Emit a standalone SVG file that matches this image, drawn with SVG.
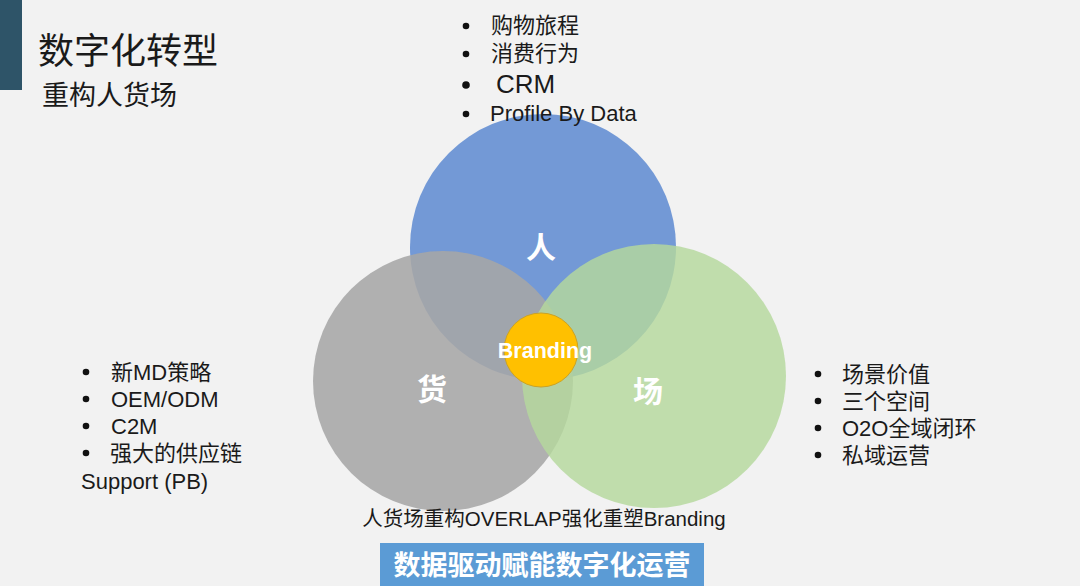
<svg xmlns="http://www.w3.org/2000/svg" width="1080" height="586" viewBox="0 0 1080 586">
<style>
.t{font-family:"Liberation Sans","Noto Sans CJK SC",sans-serif;fill:#1a1a1a}
.w{font-family:"Liberation Sans","Noto Sans CJK SC",sans-serif;fill:#fff;font-weight:bold;text-anchor:middle}
.d{fill:#111}
</style>
<rect width="1080" height="586" fill="#f2f2f2"/>
<rect x="0" y="0" width="22" height="90" fill="#2e5468"/>
<g id="title">
<text class="t" x="38" y="64" font-size="36">数字化转型</text>
<text class="t" x="42" y="105" font-size="27">重构人货场</text>
</g>
<g id="circles">
<g id="node-ren"><circle cx="543" cy="247" r="133" fill="#7399d6"/></g>
<g id="node-huo"><circle cx="443" cy="381" r="130" fill="#a6a6a6" fill-opacity="0.88"/></g>
<g id="node-chang"><circle cx="654" cy="376" r="132" fill="#b5d89c" fill-opacity="0.82"/></g>
<text class="w" x="541" y="258" font-size="30">人</text>
<text class="w" x="432" y="400" font-size="30">货</text>
<text class="w" x="648" y="402" font-size="30">场</text>
<g id="node-branding">
<circle cx="541" cy="350" r="37" fill="#ffc000" stroke="#c9a227" stroke-width="1"/>
<text class="w" x="545" y="358" font-size="21.5">Branding</text>
</g>
</g>
<g id="list-top" font-size="22">
<circle class="d" cx="466" cy="26" r="3.3"/><text class="t" x="491" y="33">购物旅程</text>
<circle class="d" cx="466" cy="54" r="3.3"/><text class="t" x="491" y="61">消费行为</text>
<circle class="d" cx="466" cy="85" r="3.8"/><text class="t" x="496" y="93" font-size="26">CRM</text>
<circle class="d" cx="466" cy="114" r="3.3"/><text class="t" x="490" y="121">Profile By Data</text>
</g>
<g id="list-left" font-size="22">
<circle class="d" cx="86" cy="372" r="3.3"/><text class="t" x="111" y="380">新MD策略</text>
<circle class="d" cx="86" cy="399" r="3.3"/><text class="t" x="111" y="407">OEM/ODM</text>
<circle class="d" cx="86" cy="426" r="3.3"/><text class="t" x="111" y="434">C2M</text>
<circle class="d" cx="86" cy="453" r="3.3"/><text class="t" x="110" y="461">强大的供应链</text>
<text class="t" x="81" y="489">Support (PB)</text>
</g>
<g id="list-right" font-size="22">
<circle class="d" cx="818" cy="374" r="3.3"/><text class="t" x="842" y="382">场景价值</text>
<circle class="d" cx="818" cy="401" r="3.3"/><text class="t" x="842" y="409">三个空间</text>
<circle class="d" cx="818" cy="428" r="3.3"/><text class="t" x="842" y="436">O2O全域闭环</text>
<circle class="d" cx="818" cy="455" r="3.3"/><text class="t" x="842" y="463">私域运营</text>
</g>
<g id="connectors"></g>
<text class="t" x="544" y="526" font-size="20.5" text-anchor="middle">人货场重构OVERLAP强化重塑Branding</text>
<g id="banner">
<rect x="380" y="543" width="324" height="43" fill="#5b9bd5"/>
<text class="w" x="542" y="575" font-size="27">数据驱动赋能数字化运营</text>
</g>
</svg>
